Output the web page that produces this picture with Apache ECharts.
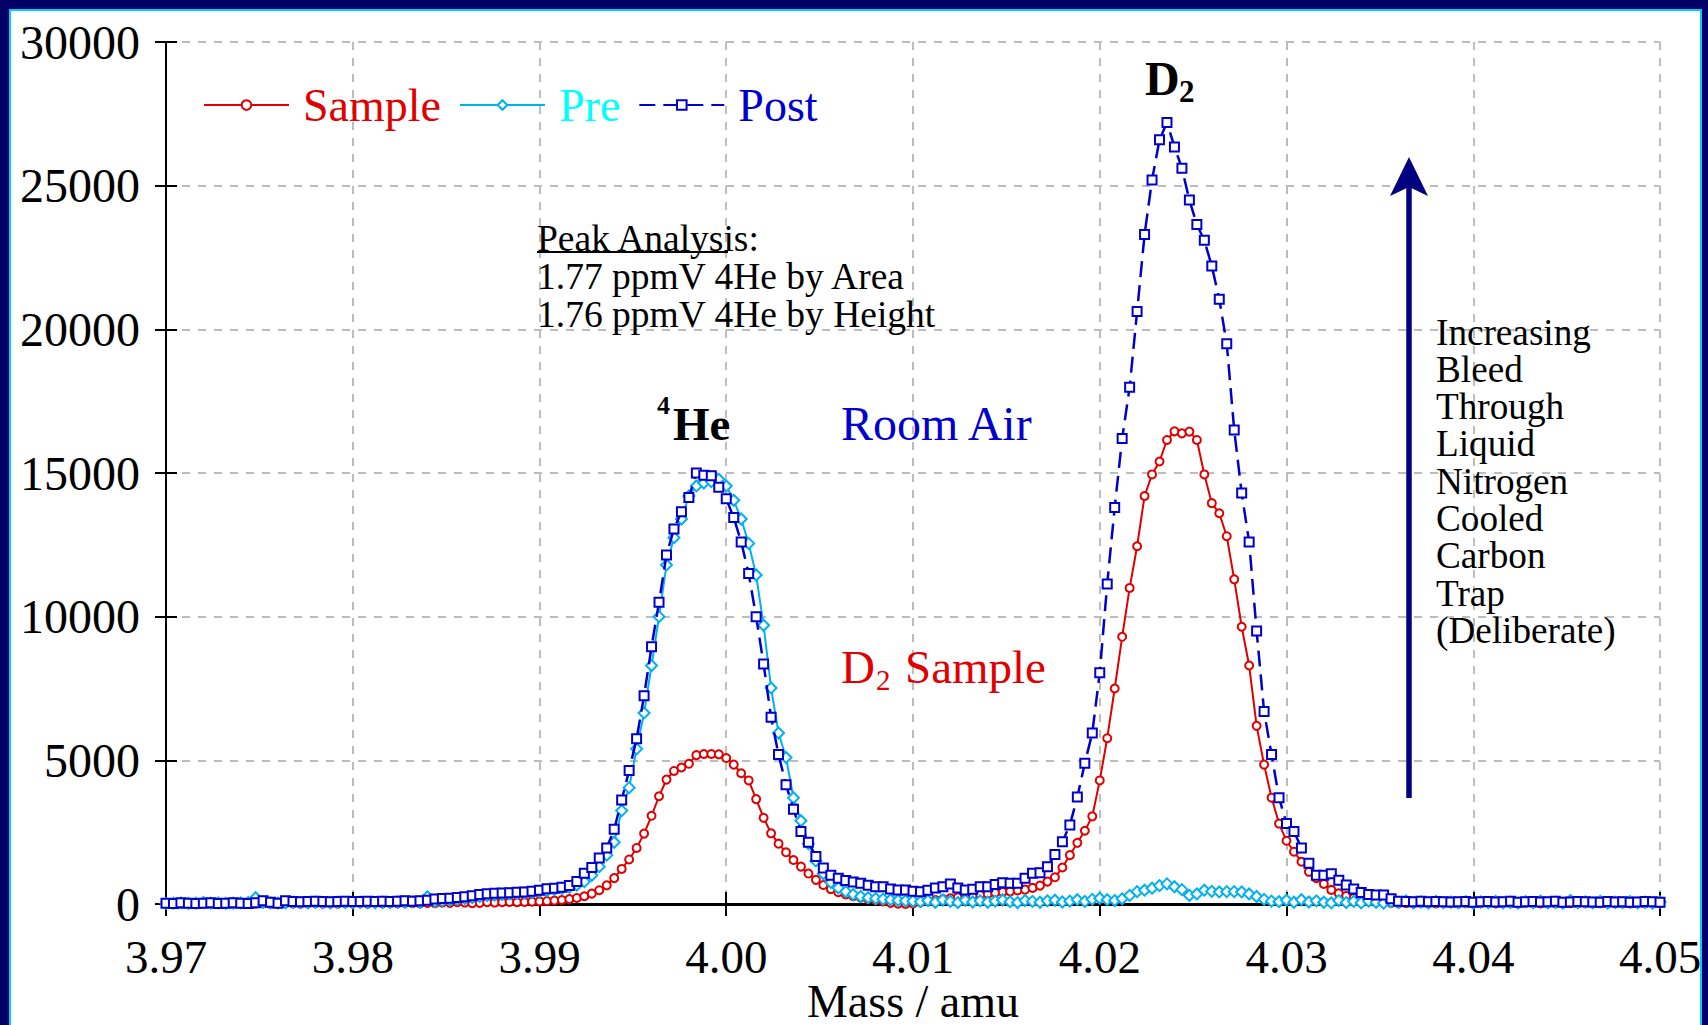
<!DOCTYPE html>
<html><head><meta charset="utf-8">
<script src="https://cdn.jsdelivr.net/npm/echarts@6/dist/echarts.min.js"></script>
<style>
html,body{margin:0;padding:0;background:#fff;}
#wrap{position:relative;width:1708px;height:1025px;overflow:hidden;background:#000066;}
#panel{position:absolute;left:9px;top:9px;width:1693px;height:1030px;background:#fff;border:2px solid #00CCFF;box-sizing:border-box;}
#c{position:absolute;left:0;top:0;width:1708px;height:1025px;}
</style>
</head><body>
<div id="wrap"><div id="panel"></div><div id="c"></div></div>
<script>
// ---- data (mass sampled every 0.0004 amu from 3.970 to 4.050) ----
const MASS_START = 3.97;
const MASS_STEP = 0.0004;
const xTickLabels = ['3.97','3.98','3.99','4.00','4.01','4.02','4.03','4.04','4.05'];
const yTickLabels = ['0','5000','10000','15000','20000','25000','30000'];
const seriesNames = ['Sample','Pre','Post'];

const sample = [
  20,10,0,20,10, 30,10,0,20,10, 20,30,10,20,0, 10,30,20,10,20, 30,10,20,10,30,
  20,30,10,40,20, 30,20,40,30,20, 40,30,50,40,60, 50,30,40,60,50, 60,70,60,70,80,
  90,100,120,140,170, 210,270,360,480,650, 900,1220,1550,1950,2450, 3070,3750,4330,4630,4750, 4880,5180,5220,5220,5210,
  5080,4850,4550,4300,3650, 3000,2460,2100,1800,1530, 1300,1060,840,660,520, 410,330,270,220,170, 130,90,40,10,0,
  20,60,100,140,170, 200,230,260,290,320, 350,390,420,440,470, 500,560,640,780,930, 1270,1700,2130,2550,3050,
  4300,5770,7500,9300,11000, 12450,14200,14950,15400,16150, 16450,16380,16440,16150,14950, 13950,13600,12800,11300,9650, 8300,6200,4850,3700,2800,
  2200,1820,1470,1120,900, 700,490,370,280,210, 150,100,70,50,40, 30,30,20,40,30, 20,30,40,20,30,
  20,30,40,20,30, 30,20,40,30,20, 30,20,40,30,20, 30,20,30,40,20, 30,20,30,20,30, 20
];
const pre = [
  20,30,40,20,30, 50,30,40,20,30, 40,50,220,60,40, 30,40,60,50,40, 60,50,40,60,50,
  40,60,50,40,60, 50,70,60,80,60, 250,90,110,140,160, 190,220,260,290,310, 330,350,370,390,410,
  440,470,500,540,580, 660,780,1000,1300,1700, 2150,3250,4050,5400,6650, 8300,10000,11800,12750,13400, 14200,14550,14650,14700,14780,
  14550,14050,13400,12550,11450, 9700,7520,5950,5100,3700, 2900,2100,1500,1050,750, 560,430,330,260,220, 190,170,150,130,110,
  100,80,120,60,140, 90,50,130,70,110, 60,100,140,80,50, 120,90,60,110,130, 70,100,150,90,160,
  200,150,120,180,300, 430,480,550,640,700, 600,500,300,350,480, 440,420,430,430,420, 350,260,160,100,80,
  130,60,150,70,110, 60,40,120,50,90, 40,100,60,30,80, 50,110,40,70,30, 90,50,60,40,80,
  30,70,50,90,40, 60,30,80,50,100, 40,60,30,120,50, 70,40,90,30,60, 50,80,40,60,30, 70
];
const post = [
  30,20,40,30,20, 30,40,20,30,40, 30,20,40,110,60, 30,110,90,80,90, 100,90,80,90,100,
  90,90,100,90,100, 90,100,110,100,110, 130,170,190,200,230, 250,290,330,360,370, 380,390,410,420,440,
  480,530,550,580,640, 780,1070,1270,1600,1950, 2600,3620,4650,5750,7250, 8950,10500,12150,13050,13650, 14150,15000,14920,14900,14500,
  14100,13450,12600,11500,10000, 8350,6500,5200,4150,3300, 2520,2150,1650,1250,1000, 900,820,770,720,650, 600,600,520,490,490,
  440,430,480,560,600, 700,560,490,510,600, 600,680,740,720,720, 900,1070,1090,1300,1720, 2170,2750,3720,4900,5950,
  8050,11140,13800,16200,17980, 20620,23300,25200,26600,27200, 26350,25610,24500,23650,23100, 22200,21050,19500,16500,14300, 12600,9500,6700,5200,3700,
  2800,2520,1950,1420,1000, 1000,1050,830,660,520, 400,330,310,310,180, 100,90,80,100,80, 90,80,70,80,90,
  60,80,90,70,80, 100,60,80,90,70, 80,100,60,70,90, 80,70,60,90,70, 80,60,70,90,80, 60
];

const FONT = '"Liberation Serif", "Times New Roman", serif';
const toPts = arr => arr.map((v, i) => [+(MASS_START + i * MASS_STEP).toFixed(4), v]);

const chart = echarts.init(document.getElementById('c'), null, {renderer: 'svg'});

const txt = (text, x, y, size, color, bold, extra) => Object.assign({
  type: 'text', x: x, y: y, z: 100,
  style: {text: text, fill: color, fontFamily: FONT, fontSize: size, fontWeight: bold ? 'bold' : 'normal',
          align: 'left', verticalAlign: 'middle', textAlign: 'left', textVerticalAlign: 'middle'}
}, extra || {});

const rightLines = ['Increasing','Bleed','Through','Liquid','Nitrogen','Cooled','Carbon','Trap','(Deliberate)'];

const gridLine = {color: '#BDBDBD', width: 2, type: [8, 8]};

const option = {
  backgroundColor: 'transparent',
  animation: false,
  grid: {left: 166, right: 48, top: 42, bottom: 121, containLabel: false, outerBoundsMode: 'none'},
  legend: {
    left: 198, top: 77, itemWidth: 85, itemHeight: 12, itemGap: 18,
    data: seriesNames,
    textStyle: {fontFamily: FONT, fontSize: 46, padding: [0, 0, 0, 9],
      rich: {
        s: {fontFamily: FONT, fontSize: 46, color: '#E00000'},
        p: {fontFamily: FONT, fontSize: 46, color: '#00FFFF'},
        q: {fontFamily: FONT, fontSize: 46, color: '#0000CC'}
      }},
    formatter: n => n === 'Sample' ? '{s|Sample}' : (n === 'Pre' ? '{p|Pre}' : '{q|Post}')
  },
  xAxis: [{
    type: 'value', min: 3.97, max: 4.05, interval: 0.01,
    axisLine: {show: true, onZero: false, lineStyle: {color: '#000', width: 3}},
    axisTick: {show: true, length: 12, lineStyle: {color: '#000', width: 2}},
    axisLabel: {fontFamily: FONT, fontSize: 47, lineHeight: 40, color: '#000', margin: 33,
      formatter: (v) => v.toFixed(2)},
    splitLine: {show: true, lineStyle: gridLine},
    name: 'Mass / amu', nameLocation: 'middle', nameGap: 77, nameMoveOverlap: false,
    nameTextStyle: {fontFamily: FONT, fontSize: 46, lineHeight: 40, color: '#000'}
  }, {
    type: 'value', min: 3.97, max: 4.05, interval: 0.01, position: 'bottom',
    axisLine: {show: false}, axisLabel: {show: false}, splitLine: {show: false},
    axisTick: {show: true, inside: true, length: 12, lineStyle: {color: '#000', width: 2}}
  }],
  yAxis: [{
    type: 'value', min: 0, max: 30000, interval: 5000,
    axisLine: {show: true, onZero: false, lineStyle: {color: '#000', width: 2}},
    axisTick: {show: true, length: 11, lineStyle: {color: '#000', width: 2}},
    axisLabel: {fontFamily: FONT, fontSize: 48, color: '#000', margin: 26,
      formatter: (v) => yTickLabels[Math.round(v / 5000)]},
    splitLine: {show: true, lineStyle: gridLine}
  }, {
    type: 'value', min: 0, max: 30000, interval: 5000, position: 'left',
    axisLine: {show: false}, axisLabel: {show: false}, splitLine: {show: false},
    axisTick: {show: true, inside: true, length: 11, lineStyle: {color: '#000', width: 2}}
  }],
  graphic: [
    txt('4', 657, 405, 26, '#000', true),
    txt('He', 673, 424, 47, '#000', true),
    txt('D', 1145, 78, 48, '#000', true),
    txt('2', 1179, 91, 31, '#000', true),
    txt('Room Air', 841, 423, 48, '#0000CC', false),
    txt('D', 841, 667, 47, '#E00000', false),
    txt('2', 876, 680, 29, '#E00000', false),
    txt('Sample', 905, 667, 47, '#E00000', false),
    txt('Peak Analysis:', 537, 238, 37.5, '#000', false),
    {type: 'line', z: 100, shape: {x1: 537, y1: 252, x2: 728, y2: 252}, style: {stroke: '#000', lineWidth: 2}},
    txt('1.77 ppmV 4He by Area', 537, 276, 37.5, '#000', false),
    txt('1.76 ppmV 4He by Height', 537, 314, 37.5, '#000', false),
    ...rightLines.map((t, k) => txt(t, 1436, 332 + k * 37.3, 37.2, '#000', false)),
    {type: 'line', z: 100, shape: {x1: 1409, y1: 798, x2: 1409, y2: 185}, style: {stroke: '#000080', lineWidth: 5.5}},
    {type: 'polygon', z: 100, shape: {points: [[1409, 157], [1390, 196], [1409, 187], [1428, 196]]}, style: {fill: '#000080'}}
  ],
  series: [{
    name: 'Sample', type: 'line', data: toPts(sample),
    symbol: 'emptyCircle', symbolSize: 8, showSymbol: true, showAllSymbol: true,
    color: '#E00000', lineStyle: {color: '#E00000', width: 2},
    itemStyle: {color: '#E00000', borderColor: '#E00000', borderWidth: 2}, z: 3
  }, {
    name: 'Pre', type: 'line', data: toPts(pre),
    symbol: 'emptyDiamond', symbolSize: 11, showSymbol: true, showAllSymbol: true,
    color: '#00B0F0', lineStyle: {color: '#00B0F0', width: 2},
    itemStyle: {color: '#00B0F0', borderColor: '#00B0F0', borderWidth: 2}, z: 4
  }, {
    name: 'Post', type: 'line', data: toPts(post),
    symbol: 'emptyRect', symbolSize: 9, showSymbol: true, showAllSymbol: true,
    color: '#0000CC', lineStyle: {color: '#0000CC', width: 2.5, type: [16, 8]},
    itemStyle: {color: '#0000CC', borderColor: '#0000CC', borderWidth: 2.2}, z: 5
  }]
};
chart.setOption(option);
</script>
</body></html>
